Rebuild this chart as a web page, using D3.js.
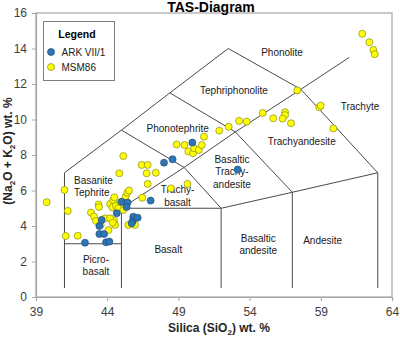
<!DOCTYPE html>
<html><head><meta charset="utf-8">
<script src="https://cdn.jsdelivr.net/npm/d3@7"></script>
<style>body{margin:0;background:#fff}svg{display:block;font-family:"Liberation Sans",Arial,sans-serif}</style>
</head><body>
<svg id="c" width="400" height="337"></svg>
<script>
const xTicks = [39, 44, 49, 54, 59, 64];
const yTicks = [0, 2, 4, 6, 8, 10, 12, 14, 16];

// ARK VII/1 samples: [SiO2, Na2O+K2O]
const arkSeries = [[42.44,3.06],[43.45,4.00],[43.61,4.34],[43.45,3.55],[43.78,3.55],[43.92,3.08],[44.15,3.12],
  [44.67,4.72],[45.02,5.37],[45.43,5.32],[45.36,5.07],[45.83,4.52],[45.79,4.28],[46.14,4.47],[45.72,4.15],
  [47.05,5.43],[47.99,7.57],[48.59,7.76],[49.98,8.70],[53.16,7.18]];

// MSM86 samples: [SiO2, Na2O+K2O]
const msmSeries = [[39.75,5.34],[41.00,6.03],[41.23,4.85],[41.09,3.44],[41.93,3.45],
  [42.86,4.76],[43.07,4.54],[43.21,4.28],[43.39,5.21],[43.42,5.07],[43.54,4.06],[43.85,4.43],[44.09,3.77],
  [44.20,5.24],[44.43,5.46],[44.50,5.62],[44.37,5.05],[44.62,5.13],[44.48,4.31],[44.55,4.06],[44.20,4.43],
  [44.39,4.19],[44.78,5.00],[44.85,6.97],[44.95,5.34],[45.13,4.90],[45.29,5.65],[45.41,5.87],[45.53,6.00],
  [45.48,4.06],[45.13,7.94],[46.42,7.44],[46.84,7.44],[46.77,6.97],[47.41,7.00],[46.84,6.37],[46.46,5.59],
  [45.95,4.06],[48.48,6.12],[49.64,6.37],
  [48.88,8.59],[49.43,8.56],[49.70,8.20],[50.03,8.10],[50.10,8.38],[50.43,8.28],[50.64,8.56],[50.80,9.03],
  [51.87,9.37],[52.53,9.59],[53.26,9.92],[53.80,9.88],[54.92,10.37],[55.66,10.07],[56.49,10.41],[56.49,10.25],
  [56.32,10.05],[56.91,9.79],[57.35,11.64],[58.89,10.69],[58.99,10.78],[59.88,9.50],
  [61.91,14.83],[62.41,14.35],[62.69,13.92],[62.79,13.68]];

// TAS field boundaries (Le Bas et al.) in data units
const boundaries = [
  [[41,0.5],[41,7],[45,9.4],[48.4,11.5],[52.5,14]],
  [[52.5,14],[57.6,11.7],[63,7],[63,0.5]],
  [[41,3],[45,3]],
  [[45,0.5],[45,5],[52,5],[52,0.5]],
  [[45,5],[49.4,7.3],[53,9.3],[57.6,11.7],[61,13.5]],
  [[45,9.4],[49.4,7.3],[52,5]],
  [[48.4,11.5],[53,9.3],[57,5.9],[57,0.5]],
  [[52,5],[57,5.9],[63,7]]
];

// field names: [lines, SiO2, alkali, anchor]
const fieldLabels = [
  [["Phonolite"], 56.28, 13.80, "middle"],
  [["Tephriphonolite"], 52.90, 11.62, "middle"],
  [["Trachyte"], 61.75, 10.76, "middle"],
  [["Trachyandesite"], 57.66, 8.75, "middle"],
  [["Phonotephrite"], 48.95, 9.50, "middle"],
  [["Basaltic","Trachy-","andesite"], 52.76, 7.77, "middle"],
  [["Basanite","Tephrite"], 41.67, 6.59, "start"],
  [["Trachy-","basalt"], 48.94, 6.03, "middle"],
  [["Basalt"], 48.29, 2.65, "middle"],
  [["Picro-","basalt"], 43.21, 2.12, "middle"],
  [["Basaltic","andesite"], 54.61, 3.31, "middle"],
  [["Andesite"], 59.13, 3.21, "middle"]
];

const seriesNames = ["ARK VII/1", "MSM86"];
const seriesFill = ["#2e75b6", "#ffff00"];
const seriesStroke = ["#1f4e79", "#8a8a20"];

const svg = d3.select("#c");
const x = d3.scaleLinear().domain([39, 64]).range([36, 392]);
const y = d3.scaleLinear().domain([0, 16]).range([297, 13]);

// frame
svg.append("rect").attr("x", x(39)).attr("y", y(16)).attr("width", x(64)-x(39)).attr("height", y(0)-y(16))
  .attr("fill", "none").attr("stroke", "#a6a6a6").attr("stroke-width", 1.2);

const xAxis = svg.append("g").attr("transform", `translate(0,${y(0)})`)
  .call(d3.axisBottom(x).tickValues(xTicks).tickSize(4).tickPadding(6).tickFormat(d3.format("d")));
const yAxis = svg.append("g").attr("transform", `translate(${x(39)},0)`)
  .call(d3.axisLeft(y).tickValues(yTicks).tickSize(4).tickPadding(5).tickFormat(d3.format("d")));
[xAxis, yAxis].forEach(a => {
  a.select(".domain").attr("stroke", "#a6a6a6").attr("stroke-width", 1.2);
  a.selectAll(".tick line").attr("stroke", "#a6a6a6");
  a.selectAll(".tick text").attr("fill", "#404040").attr("font-size", 12).attr("font-family", "Liberation Sans, Arial, sans-serif");
});

// boundaries
const line = d3.line().x(d => x(d[0])).y(d => y(d[1]));
svg.append("g").selectAll("path").data(boundaries).join("path")
  .attr("d", line).attr("fill", "none").attr("stroke", "#4a4a4a").attr("stroke-width", 1);

// field labels
const lg = svg.append("g").attr("font-size", 10).attr("fill", "#1a1a1a");
fieldLabels.forEach(([lines, sx, sy, anchor]) => {
  const t = lg.append("text").attr("text-anchor", anchor)
    .attr("x", x(sx)).attr("y", y(sy)).attr("dy", "0.35em");
  lines.forEach((s, i) => t.append("tspan").attr("x", x(sx)).attr("dy", i === 0 ? "0.35em" : 12.5).text(s));
});

// points
svg.append("g").selectAll("circle").data(msmSeries).join("circle")
  .attr("cx", d => x(d[0])).attr("cy", d => y(d[1])).attr("r", 3.5)
  .attr("fill", seriesFill[1]).attr("stroke", seriesStroke[1]).attr("stroke-width", 0.7);
svg.append("g").selectAll("circle").data(arkSeries).join("circle")
  .attr("cx", d => x(d[0])).attr("cy", d => y(d[1])).attr("r", 3.5)
  .attr("fill", seriesFill[0]).attr("stroke", seriesStroke[0]).attr("stroke-width", 0.7);

// title
svg.append("text").attr("x", 211).attr("y", 12).attr("text-anchor", "middle")
  .attr("font-size", 14).attr("font-weight", "bold").attr("fill", "#000").text("TAS-Diagram");

// x title
const xt = svg.append("text").attr("x", 219).attr("y", 332).attr("text-anchor", "middle")
  .attr("font-size", 12).attr("font-weight", "bold").attr("fill", "#262626");
xt.append("tspan").text("Silica (SiO");
xt.append("tspan").attr("font-size", 8).attr("dy", 3).text("2");
xt.append("tspan").attr("dy", -3).text(") wt. %");

// y title
const yt = svg.append("text").attr("transform", "translate(12,151) rotate(-90)").attr("text-anchor", "middle")
  .attr("font-size", 12).attr("font-weight", "bold").attr("fill", "#262626");
yt.append("tspan").text("(Na");
yt.append("tspan").attr("font-size", 8).attr("dy", 3).text("2");
yt.append("tspan").attr("dy", -3).text("O + K");
yt.append("tspan").attr("font-size", 8).attr("dy", 3).text("2");
yt.append("tspan").attr("dy", -3).text("O) wt. %");

// legend
const leg = svg.append("g");
leg.append("rect").attr("x", 43.5).attr("y", 21.5).attr("width", 71).attr("height", 59)
  .attr("fill", "#fff").attr("stroke", "#7f7f7f").attr("stroke-width", 1);
leg.append("text").attr("x", 77).attr("y", 37.5).attr("text-anchor", "middle")
  .attr("font-size", 10.5).attr("font-weight", "bold").attr("fill", "#000").text("Legend");
seriesNames.forEach((n, i) => {
  const cy = 52 + i * 15;
  leg.append("circle").attr("cx", 51).attr("cy", cy).attr("r", 3.5)
    .attr("fill", seriesFill[i]).attr("stroke", seriesStroke[i]).attr("stroke-width", 0.7);
  leg.append("text").attr("x", 61.5).attr("y", cy).attr("dy", "0.35em")
    .attr("font-size", 10).attr("fill", "#1a1a1a").text(n);
});
</script>
</body></html>
